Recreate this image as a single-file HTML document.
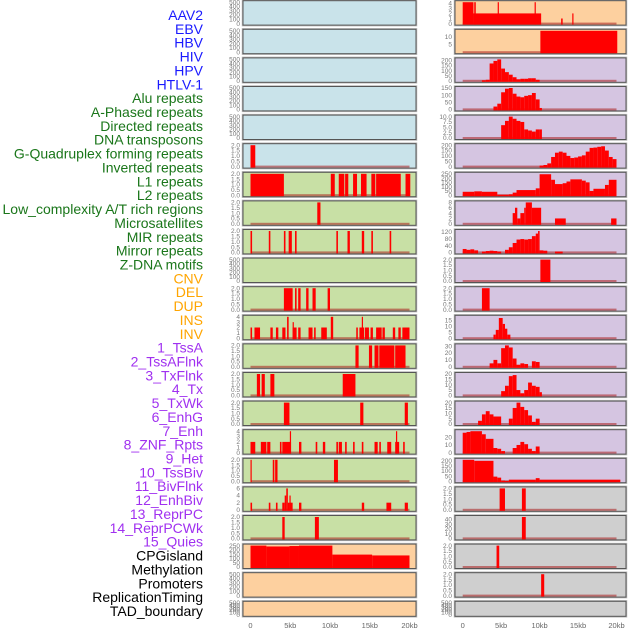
<!DOCTYPE html>
<html><head><meta charset="utf-8"><style>
html,body{margin:0;padding:0;background:#fff;}
svg{display:block;font-family:"Liberation Sans",sans-serif;}
</style></head><body>
<svg id="chart" width="630" height="630" viewBox="0 0 630 630" xmlns="http://www.w3.org/2000/svg">
<g id="labels"></g>
<g id="panels"></g>
<g id="xaxes"></g>
</svg>
<script>
// ---- labels ----
const trackLabels = ["AAV2","EBV","HBV","HIV","HPV","HTLV-1","Alu repeats","A-Phased repeats","Directed repeats","DNA transposons","G-Quadruplex forming repeats","Inverted repeats","L1 repeats","L2 repeats","Low_complexity A/T rich regions","Microsatellites","MIR repeats","Mirror repeats","Z-DNA motifs","CNV","DEL","DUP","INS","INV","1_TssA","2_TssAFlnk","3_TxFlnk","4_Tx","5_TxWk","6_EnhG","7_Enh","8_ZNF_Rpts","9_Het","10_TssBiv","11_BivFlnk","12_EnhBiv","13_ReprPC","14_ReprPCWk","15_Quies","CPGisland","Methylation","Promoters","ReplicationTiming","TAD_boundary"];
const labelGroups = [6,13,5,15,5];
const xTickValues = [0,5,10,15,20];
const xTickLabels = ["0","5kb","10kb","15kb","20kb"];

// ---- tick arrays ----
const T500 = [0,100,200,300,400,500];
const T2 = [0,0.5,1,1.5,2];
const T4 = [0,1,2,3,4];
const T6 = [0,2,4,6];
const T250 = [0,50,100,150,200,250];
const T200 = [0,50,100,150,200];
const T150 = [0,50,100,150];
const T10 = [0,2.5,5,7.5,10];
const T8 = [0,2,4,6,8];
const T120 = [0,40,80,120];
const T15 = [0,5,10,15];
const T30 = [0,10,20,30];
const T20 = [0,5,10,15,20];
const T20b = [0,10,20];
const T40 = [0,10,20,30,40];
const TEBV = [5,10];

// ---- left column data: [startKb, endKb, value] ----
const L5 = [[0,0.6,2]];
const L6 = [[0,4.2,2],[10.1,10.6,2],[11.1,11.8,2],[11.9,12.3,2],[12.9,13.4,2],[13.9,14.6,2],[15.2,15.7,2],[15.8,18.9,2],[19.5,20.1,2]];
const L7 = [[8.4,8.8,2]];
const L8 = [[0,0.2,2],[2.3,2.5,2],[4.2,4.4,2],[4.8,5.2,2],[5.6,5.8,2],[10.8,11,2],[12.2,12.5,2],[14,14.3,2],[15.2,15.4,2],[17.5,17.7,2]];
const L10 = [[4.2,5.3,2],[5.6,5.8,2],[6.0,6.3,2],[7.0,7.3,2],[7.8,8.2,2],[9.7,10.0,2]];
const L11 = [[0,0.2,2],[0.5,1.2,2],[2.5,2.8,2],[3.2,3.5,2],[4.0,4.4,2],[4.6,4.8,4],[5.3,5.8,2],[5.3,5.4,3],[6.0,6.3,2],[7.3,7.8,2],[8.0,8.2,2],[8.9,9.6,2],[10.1,10.4,4],[13.3,13.5,2],[13.7,14.3,2],[14.0,14.1,4],[14.4,14.9,2],[15.1,15.4,2],[15.8,16.5,2],[16.6,16.9,2],[17.9,18.2,2],[18.6,18.9,2],[19.1,20.0,2]];
const L12 = [[13.2,13.6,2],[14.9,15.3,2],[15.6,16.1,2],[16.2,18.1,2],[18.2,19.5,2]];
const L13 = [[0.8,1.2,2],[1.4,1.8,2],[2.5,3.0,2],[11.6,13.2,2]];
const L14 = [[4.2,4.9,2],[13.8,14.2,2],[19.4,19.8,2]];
const L15 = [[0,0.6,2],[1.3,2.0,2],[2.1,2.5,2],[3.7,3.9,2],[4.0,5.1,2],[4.95,5.1,4],[6.1,6.4,2],[8.2,8.4,2],[9.1,9.4,2],[10.8,11.0,2],[11.1,11.5,2],[11.9,12.1,2],[12.9,13.1,2],[14.0,14.2,2],[15.6,16.0,2],[16.2,16.4,2],[17.2,17.7,2],[18.2,18.7,2],[18.3,18.45,4],[19.2,19.4,2]];
const L16 = [[0,0.15,2],[2.8,3.0,2],[3.1,3.4,2],[10.5,11.0,2]];
const L17 = [[0,0.2,2],[2.3,2.5,2],[3.2,3.4,2],[4.0,4.3,2],[4.3,4.5,4],[4.5,4.7,6],[4.7,4.9,2],[4.9,5.0,4],[5.0,5.3,2],[6.1,6.4,2],[14.0,14.3,2],[17.1,17.7,2],[19.4,19.8,2]];
const L18 = [[4.0,4.3,2],[8.1,8.6,2]];
const L19 = [[0,2.0,250],[2.0,4.9,240],[4.9,6.1,245],[6.1,10.3,250],[10.3,15.3,145],[15.3,20.0,135]];

// ---- right column data ----
const R0 = [[0,1.4,4.2],[1.4,10.2,2],[1.5,1.7,4.2],[4.55,4.7,4.2],[9.35,9.5,4.2],[12.8,13.0,1],[14.25,14.4,2]];
const R1 = [[10.1,20.1,13.9]];
const R2 = [[2.5,3,5],[3,3.5,10],[3.5,4,170],[4,4.5,195],[4.5,5,210],[5,5.5,120],[5.5,6,85],[6,6.5,60],[6.5,7,35],[7,7.5,15],[7.5,8,20],[8,8.5,20],[8.5,9,25],[9,9.5,25],[9.5,10,10]];
const R3 = [[4,4.5,20],[4.5,5,40],[5,5.5,120],[5.5,6,145],[6,6.5,150],[6.5,7,110],[7,7.5,90],[7.5,8,85],[8,8.5,95],[8.5,9,100],[9,9.5,115],[9.5,10,70],[10,10.3,10]];
const R4 = [[5,5.5,6],[5.5,6,8],[6,6.5,10],[6.5,7,9],[7,7.5,8],[7.5,8,7.5],[8,8.5,4],[8.5,9,3.5],[9,9.5,3],[9.5,10,4],[10,10.3,4]];
const R5 = [[10,10.5,10],[10.5,11,15],[11,11.5,30],[11.5,12,90],[12,12.5,130],[12.5,13,140],[13,13.5,130],[13.5,14,100],[14,14.5,80],[14.5,15,85],[15,15.5,95],[15.5,16,105],[16,16.5,140],[16.5,17,175],[17,17.5,178],[17.5,18,185],[18,18.5,190],[18.5,19,150],[19,19.5,90],[19.5,20,70]];
const R6 = [[0,1.5,40],[1.5,2.5,45],[2.5,4.5,40],[4.5,6,5],[6,6.5,10],[6.5,7,30],[7,9.5,60],[9.5,10,80],[10,11.5,245],[11.5,12,180],[12,13,130],[13,13.5,140],[13.5,14,160],[14,15.5,185],[15.5,16,170],[16,16.5,150],[16.5,17,50],[17,18.5,75],[18.5,19,120],[19,20,180]];
const R7 = [[6.5,6.8,4],[6.8,7.1,6],[7.1,7.5,2],[7.5,8,4],[8,8.2,6],[8.2,9,8],[9,10.2,6],[12,13.4,2],[19.3,20,2]];
const R8 = [[0,0.5,20],[0.5,1,15],[1,1.5,18],[1.5,2,12],[2.5,3,5],[3,3.5,8],[3.5,4,10],[4,4.5,8],[4.5,5,5],[5.5,6,15],[6,6.5,30],[6.5,7,55],[7,7.5,75],[7.5,8,78],[8,8.5,75],[8.5,9,78],[9,9.5,95],[9.5,9.8,110],[9.8,10,125],[10,10.5,12],[10.5,11,10],[12,13,5]];
const R9 = [[10.1,11.4,2]];
const R10 = [[2.5,3.5,2]];
const R11 = [[4,4.3,3],[4.3,4.7,7],[4.7,5.2,17],[5.2,5.5,12],[5.5,5.8,8],[5.8,6.2,3]];
const R12 = [[3.5,4,5],[4,4.5,10],[4.5,5,5],[5,5.5,27],[5.5,6,31],[6,6.5,28],[6.5,7,12],[7,7.5,3],[7.5,8,5],[8,8.5,4],[9,9.5,8],[9.5,10,7]];
const R13 = [[5,5.5,4],[5.5,6,9],[6,6.5,18],[6.5,7,19],[7,7.5,5],[7.5,8,2],[8,8.5,5],[8.5,9,12],[9,9.5,9],[9.5,10,8],[10,10.3,3]];
const R14 = [[2,2.5,3],[2.5,3,9],[3,3.5,12],[3.5,4,9],[4,5,7],[6,6.5,5],[6.5,7,15],[7,7.5,20],[7.5,8,16],[8,8.5,13],[8.5,9,8],[9,9.5,2],[9.5,10,5]];
const R15 = [[0,0.5,26],[0.5,1,27],[1,2.5,28],[2.5,3,24],[3,4,18],[4,4.5,6],[4.5,5,5],[5,5.5,2],[6.5,7,6],[7,7.5,10],[7.5,8,14],[8,8.5,11],[8.5,9,5],[9,9.5,2],[9.5,10,8]];
const R16 = [[0,1.5,210],[1.5,4,200],[4,4.5,45],[4.5,5,35],[5,5.5,5],[5.5,6,2],[6,9.5,15],[9.5,10,30],[10,20.5,15]];
const R17 = [[4.8,5.5,2],[7.7,8.2,2]];
const R18 = [[7.7,8.2,45]];
const R19 = [[4.4,4.75,2]];
const R20 = [[10.2,10.6,2]];

const BLUE="#c9e3ea", GREEN="#c8e0a5", ORANGE="#fdd09f", PURPLE="#d5c5e1", GREY="#cfcfcf";
const leftTracks = [
 [null,T500,500,BLUE],[null,T500,500,BLUE],[null,T500,500,BLUE],[null,T500,500,BLUE],[null,T500,500,BLUE],
 [L5,T2,2,BLUE],[L6,T2,2,GREEN],[L7,T2,2,GREEN],[L8,T2,2,GREEN],[null,T500,500,GREEN],
 [L10,T2,2,GREEN],[L11,T4,4,GREEN],[L12,T2,2,GREEN],[L13,T2,2,GREEN],[L14,T2,2,GREEN],
 [L15,T4,4,GREEN],[L16,T2,2,GREEN],[L17,T6,6,GREEN],[L18,T2,2,GREEN],[L19,T250,250,ORANGE],
 [null,T500,500,ORANGE],[null,T500,500,ORANGE]];
const rightTracks = [
 [R0,T4,4.2,ORANGE],[R1,TEBV,13.9,ORANGE],[R2,T200,210,PURPLE],[R3,T150,150,PURPLE],[R4,T10,10,PURPLE],
 [R5,T200,200,PURPLE],[R6,T250,250,PURPLE],[R7,T8,8,PURPLE],[R8,T120,125,PURPLE],[R9,T2,2,PURPLE],
 [R10,T2,2,PURPLE],[R11,T15,18,PURPLE],[R12,T30,31,PURPLE],[R13,T20,20,PURPLE],[R14,T20,20,PURPLE],
 [R15,T20b,28,PURPLE],[R16,T200,210,PURPLE],[R17,T2,2,GREY],[R18,T40,45,GREY],[R19,T2,2,GREY],
 [R20,T2,2,GREY],[null,T500,500,GREY]];

const NS="http://www.w3.org/2000/svg";
function mk(tag, attrs, parent){const e=document.createElementNS(NS,tag);for(const k in attrs)e.setAttribute(k,attrs[k]);parent.appendChild(e);return e;}

// labels
const labelColors=["#1a1aff","#1a761a","#ffa500","#a030f0","#000000"];
const lg=document.getElementById("labels");
let gi=0,cnt=0;
trackLabels.forEach((t,i)=>{
  while(cnt>=labelGroups[gi]){gi++;cnt=0;}
  cnt++;
  const e=mk("text",{x:203,y:(20+i*13.86).toFixed(1),"text-anchor":"end","font-size":"14",fill:labelColors[gi]},lg);
  e.textContent=t;
  
  
});

const pg=document.getElementById("panels");
function drawColumn(tracks, px0, px1, kb0x, kb20x, side){
  const xs=kb=>kb0x+(kb20x-kb0x)*kb/20;
  tracks.forEach((tr,i)=>{
    const [data,ticks,ymax,bg]=tr;
    const top=0.7+28.6*i;
    const h=(i===21)?15:24.4;
    const g=mk("g",{},pg);
    
    
    mk("rect",{x:px0-0.5,y:top-0.5,width:px1-px0+1,height:h+1,fill:"none",stroke:"#bbb","stroke-width":"1.5"},g);
    const bgR=mk("rect",{x:px0,y:top,width:px1-px0,height:h,fill:bg,stroke:"#555","stroke-width":"1"},g);
    
    
    const y0=top+h-1.5, y1=top+1.5;
    const ys=v=>y0-(y0-y1)*v/ymax;
    ticks.forEach(t=>{
      const te=mk("text",{x:px0-3,y:(ys(t)+2.2).toFixed(1),"text-anchor":"end","font-size":"6.5",fill:"#777"},g);
      te.textContent=String(t===2.5||t===7.5||t===0.5||t===1.5?t:(ymax<=2||ymax===10?t.toFixed(1):t));
      
      
    });
    if(data){
      const base=mk("rect",{x:xs(0),y:y0-1,width:xs(20)-xs(0),height:2,fill:"rgba(170,30,30,0.55)"},g);
      
      
      data.forEach(d=>{
        const yt=Math.max(ys(d[2]),top);
        const b=mk("rect",{x:xs(d[0]).toFixed(2),y:yt.toFixed(2),width:Math.max(1.2,xs(d[1])-xs(d[0])).toFixed(2),height:(y0+1-yt).toFixed(2),fill:"#ff0000"},g);
        
        
      });
    }
  });
  const xg=document.getElementById("xaxes");
  xTickValues.forEach((v,k)=>{
    const te=mk("text",{x:xs(v).toFixed(1),y:628,"text-anchor":"middle","font-size":"7.5",fill:"#666"},xg);
    te.textContent=xTickLabels[k];
    
    
  });
}
drawColumn(leftTracks,243,416,250.5,409.5,"left");
drawColumn(rightTracks,455,626,462.7,616.5,"right");
</script>
</body></html>
